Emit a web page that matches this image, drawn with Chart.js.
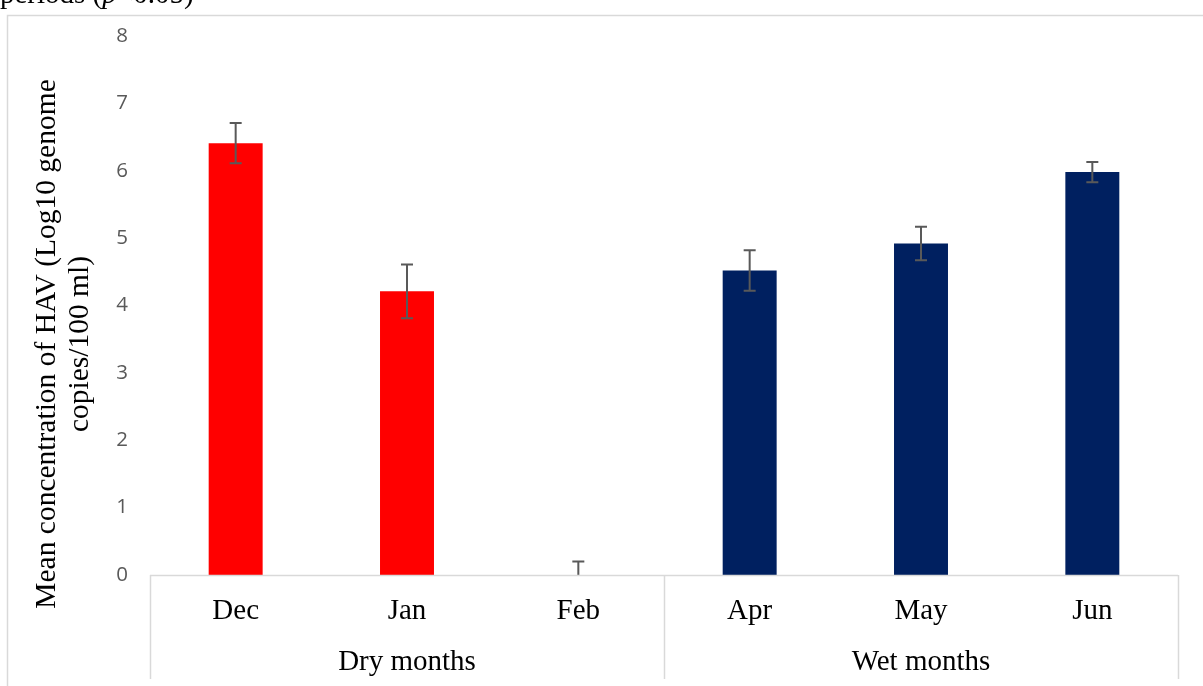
<!DOCTYPE html>
<html>
<head>
<meta charset="utf-8">
<script src="https://cdn.jsdelivr.net/npm/chart.js@4"></script>
<style>
    html, body { margin: 0; padding: 0; background: #fff; }
    #wrap { position: relative; width: 1203px; height: 686px; }
</style>
</head>
<body>
<div id="wrap"><canvas id="hav-chart" width="1203" height="686"></canvas></div>

<script>
    // 数据
    const months = ['Dec', 'Jan', 'Feb', 'Apr', 'May', 'Jun'];
    const meanLog = [6.41, 4.21, 0, 4.52, 4.92, 5.98];
    const errLog = [0.30, 0.40, 0.20, 0.30, 0.25, 0.15];
    const groups = ['Dry months', 'Wet months'];
    const groupSizes = [3, 3];
    const yTicks = [0, 1, 2, 3, 4, 5, 6, 7, 8];
    const yTitle = ['Mean concentration of HAV (Log10 genome', 'copies/100 ml)'];

    const serif = '"Liberation Serif", "Times New Roman", serif';
    const lineGray = '#d9d9d9';

    // 误差线、分组标签、边框
    const decorPlugin = {
        id: 'decor',
        beforeDraw(chart) {
            const ctx = chart.ctx;
            ctx.save();
            ctx.fillStyle = '#fff';
            ctx.fillRect(0, 0, chart.width, chart.height);
            // 外框
            ctx.strokeStyle = lineGray;
            ctx.lineWidth = 1.5;
            ctx.beginPath();
            ctx.moveTo(7.5, chart.height);
            ctx.lineTo(7.5, 15.5);
            ctx.lineTo(chart.width, 15.5);
            ctx.stroke();
            // 顶部残留文字
            ctx.fillStyle = '#000';
            ctx.textBaseline = 'alphabetic';
            ctx.textAlign = 'left';
            let x = 0;
            const parts = [['periods (', ''], ['p', 'italic '], ['<0.05)', '']];
            parts.forEach(([t, st]) => {
                ctx.font = st + '29px ' + serif;
                ctx.fillText(t, x, 3);
                x += ctx.measureText(t).width;
            });
            ctx.restore();
        },
        afterDatasetsDraw(chart) {
            const ctx = chart.ctx;
            const xs = chart.scales.x;
            const ys = chart.scales.y;
            const area = chart.chartArea;
            ctx.save();

            // 误差线
            ctx.strokeStyle = '#595959';
            ctx.lineWidth = 2;
            meanLog.forEach((v, i) => {
                const px = xs.getPixelForValue(i);
                const top = ys.getPixelForValue(v + errLog[i]);
                const bot = ys.getPixelForValue(Math.max(0, v - errLog[i]));
                ctx.beginPath();
                ctx.moveTo(px, top);
                ctx.lineTo(px, bot);
                ctx.moveTo(px - 6, top);
                ctx.lineTo(px + 6, top);
                if (v - errLog[i] > 0) {
                    ctx.moveTo(px - 6, bot);
                    ctx.lineTo(px + 6, bot);
                }
                ctx.stroke();
            });

            // x 轴线和分组线
            ctx.strokeStyle = lineGray;
            ctx.lineWidth = 1.5;
            ctx.beginPath();
            ctx.moveTo(area.left, area.bottom + 0.5);
            ctx.lineTo(area.right, area.bottom + 0.5);
            let idx = 0;
            const bounds = [-0.5];
            groupSizes.forEach(n => { idx += n; bounds.push(idx - 0.5); });
            bounds.forEach(b => {
                const bx = Math.round(xs.getPixelForValue(b)) + 0.5;
                ctx.moveTo(bx, area.bottom);
                ctx.lineTo(bx, 679);
            });
            ctx.stroke();

            // 月份标签
            ctx.fillStyle = '#000';
            ctx.font = '29px ' + serif;
            ctx.textAlign = 'center';
            ctx.textBaseline = 'alphabetic';
            months.forEach((m, i) => {
                ctx.fillText(m, xs.getPixelForValue(i), 619);
            });

            // 分组标签
            idx = 0;
            groups.forEach((g, k) => {
                const a = xs.getPixelForValue(idx - 0.5);
                const b = xs.getPixelForValue(idx + groupSizes[k] - 0.5);
                ctx.fillText(g, (a + b) / 2, 670);
                idx += groupSizes[k];
            });

            // y 轴标题
            ctx.translate(0, 344);
            ctx.rotate(-Math.PI / 2);
            ctx.textBaseline = 'middle';
            ctx.font = '29.5px ' + serif;
            yTitle.forEach((t, i) => {
                ctx.fillText(t, 0, 47.5 + i * 33);
            });
            ctx.restore();
        }
    };

    new Chart(document.getElementById('hav-chart'), {
        type: 'bar',
        data: {
            labels: months,
            datasets: [{
                data: meanLog,
                backgroundColor: ctx => ctx.dataIndex < groupSizes[0] ? '#ff0000' : '#002060',
                categoryPercentage: 1,
                barPercentage: 0.315
            }]
        },
        options: {
            responsive: false,
            animation: false,
            events: [],
            layout: { padding: { left: 0, top: 36, right: 25, bottom: 0 } },
            plugins: {
                legend: { display: false },
                tooltip: { enabled: false },
                title: { display: false }
            },
            scales: {
                x: {
                    grid: { display: false, drawTicks: false },
                    border: { display: false },
                    ticks: { display: false },
                    afterFit(scale) { scale.height = 111; }
                },
                y: {
                    min: 0,
                    max: 8,
                    afterBuildTicks(scale) { scale.ticks = yTicks.map(v => ({ value: v })); },
                    grid: { display: false, drawTicks: false },
                    border: { display: false },
                    ticks: {
                        padding: 22,
                        color: '#595959',
                        font: { family: '"Open Sans", sans-serif', size: 20.5 }
                    },
                    afterFit(scale) { scale.width = 150; }
                }
            }
        },
        plugins: [decorPlugin]
    });
</script>
</body>
</html>
